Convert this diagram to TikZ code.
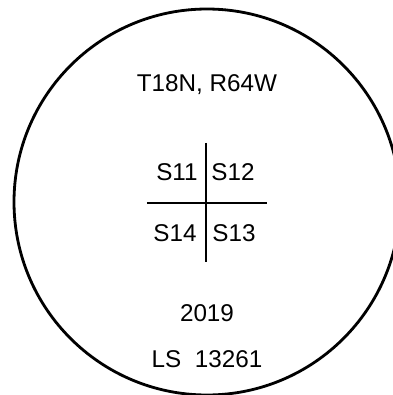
\documentclass[tikz,border=0pt]{standalone}
\usepackage{fontspec}
\setmainfont{Liberation Sans}
\usetikzlibrary{positioning,calc}
\begin{document}
\begin{tikzpicture}[line width=0.8pt, lbl/.style={inner sep=0pt, font=\fontsize{6.9}{7.5}\selectfont}]
\useasboundingbox (0,0) rectangle (3.92,3.95);
\draw (2.07,1.93) circle (1.93);
\node[lbl] (twp) at (2.07,3.10) {T18N,\ R64W};
\coordinate (c) at (2.06,1.92);
\coordinate (n) at (2.06,2.52); \coordinate (s) at (2.06,1.33);
\coordinate (w) at (1.47,1.92); \coordinate (e) at (2.67,1.92);
\draw (n) -- (s); \draw (w) -- (e);
\foreach \nm/\x/\y in {11/1.77/2.23, 12/2.33/2.23, 14/1.75/1.62, 13/2.34/1.62} { \node[lbl] (s\nm) at (\x,\y) {S\nm}; }
\node[lbl] (yr) at (2.07,0.82) {2019};
\node[lbl] (ls) at (2.07,0.36) {LS\ \ 13261};
\end{tikzpicture}
\end{document}
